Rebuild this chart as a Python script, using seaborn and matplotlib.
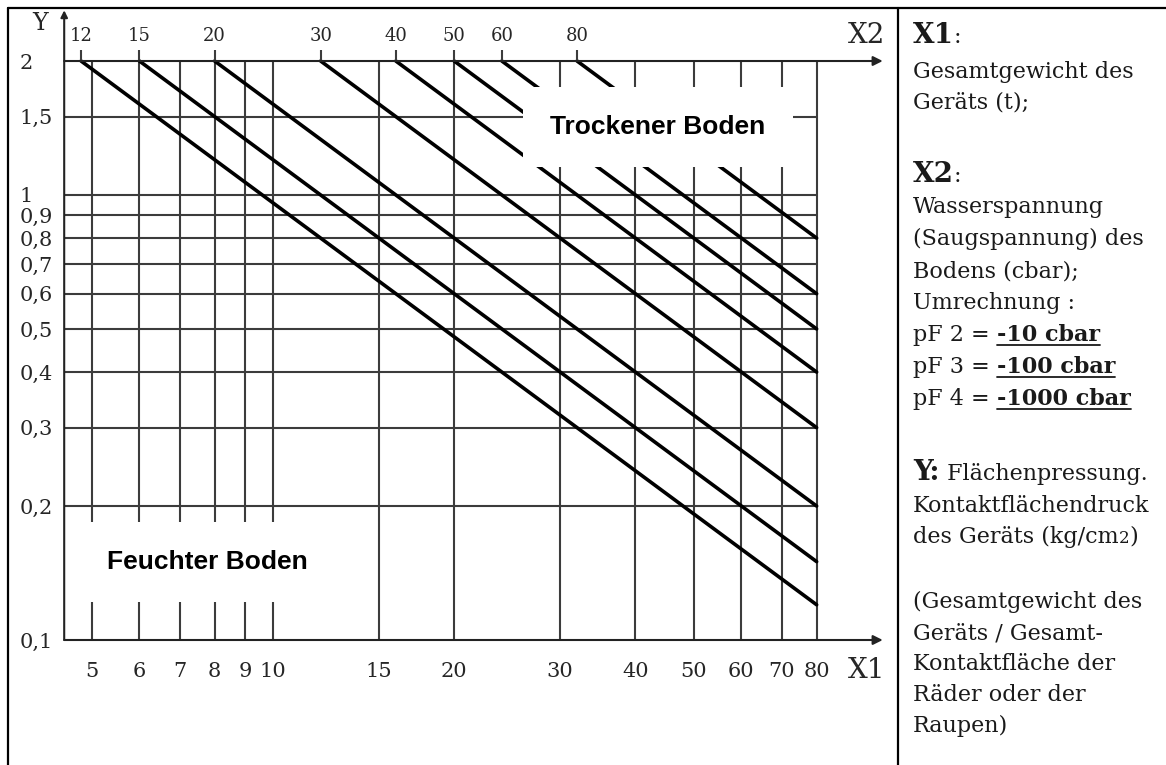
import numpy as np
import pandas as pd
import seaborn as sns
import matplotlib.pyplot as plt
from matplotlib.lines import Line2D
from matplotlib.ticker import FixedLocator, FixedFormatter, NullLocator

# Kurven X2: Start auf Y=2 (Lage in X1-Einheiten) und Endwert bei X1=80
x2_werte = [12, 15, 20, 30, 40, 50, 60, 80]
x1_start = [4.8, 6, 8, 12, 16, 20, 24, 32]
y_start = [2, 2, 2, 2, 2, 2, 2, 2]
x1_ende = [80, 80, 80, 80, 80, 80, 80, 80]
y_ende = [0.12, 0.15, 0.2, 0.3, 0.4, 0.5, 0.6, 0.8]

# Gitter / Achsenbeschriftung
x1_gitter = [5, 6, 7, 8, 9, 10, 15, 20, 30, 40, 50, 60, 70, 80]
x1_labels = ['5', '6', '7', '8', '9', '10', '15', '20', '30', '40', '50', '60', '70', '80']
y_gitter = [0.1, 0.2, 0.3, 0.4, 0.5, 0.6, 0.7, 0.8, 0.9, 1, 1.5, 2]
y_labels = ['0,1', '0,2', '0,3', '0,4', '0,5', '0,6', '0,7', '0,8', '0,9', '1', '1,5', '2']

df = pd.DataFrame({
    'X2': x2_werte + x2_werte,
    'X1': x1_start + x1_ende,
    'Y': y_start + y_ende,
})

sns.set_style('white')
plt.rcParams['font.family'] = ['DejaVu Serif']

W, H = 1166, 765
fig = plt.figure(figsize=(W / 100, H / 100), dpi=100)

# Achsenbereich so legen, dass X1 4.5..103 und Y 0.1..2.6 abgedeckt sind
x_links, x_rechts = 64.2, 882.7
y_oben, y_unten = 10.3, 640
ax = fig.add_axes([x_links / W, 1 - y_unten / H, (x_rechts - x_links) / W, (y_unten - y_oben) / H])
ax.set_xscale('log')
ax.set_yscale('log')
xmin, xmax = 4.5, 103
ymin, ymax = 0.1, 2.6
ax.set_xlim(xmin, xmax)
ax.set_ylim(ymin, ymax)

gitter_farbe = '#3c3c3c'
text_farbe = '#262626'
ax.vlines(x1_gitter, ymin, 2, color=gitter_farbe, lw=1.5, zorder=1)
ax.hlines(y_gitter[1:-1], xmin, 80, color=gitter_farbe, lw=1.5, zorder=1)

sns.lineplot(data=df, x='X1', y='Y', units='X2', estimator=None, color='black',
             linewidth=2.6, legend=False, ax=ax, zorder=2)

# Achsen mit Pfeilen
pfeil = dict(arrowstyle='-|>', lw=1.5, color='#222222', mutation_scale=14, shrinkA=0, shrinkB=0)
ax.annotate('', xy=(xmax, ymin), xytext=(xmin, ymin), arrowprops=pfeil, annotation_clip=False)
ax.annotate('', xy=(xmax, 2), xytext=(xmin, 2), arrowprops=pfeil, annotation_clip=False)
ax.annotate('', xy=(xmin, ymax), xytext=(xmin, ymin),
            arrowprops=dict(pfeil, mutation_scale=10), annotation_clip=False)

# X2-Markierungen oben
ax.vlines(x1_start, 2, 2.12, color=gitter_farbe, lw=1.5, clip_on=False)
for xs, lab in zip(x1_start, x2_werte):
    ax.annotate(str(lab), xy=(xs, 2), xytext=(0, 25), textcoords='offset pixels',
                ha='center', va='center', fontsize=13, color=text_farbe, annotation_clip=False)

for s in ax.spines.values():
    s.set_visible(False)
ax.xaxis.set_major_locator(FixedLocator(x1_gitter))
ax.xaxis.set_major_formatter(FixedFormatter(x1_labels))
ax.xaxis.set_minor_locator(NullLocator())
ax.yaxis.set_major_locator(FixedLocator(y_gitter))
ax.yaxis.set_major_formatter(FixedFormatter(y_labels))
ax.yaxis.set_minor_locator(NullLocator())
ax.tick_params(axis='x', length=0, pad=16, labelsize=15, labelcolor=text_farbe)
ax.tick_params(axis='y', length=0, pad=32, labelsize=15, labelcolor=text_farbe)
for lab in ax.get_yticklabels():
    lab.set_horizontalalignment('left')
ax.set_xlabel('')
ax.set_ylabel('')

fig.text(848 / W, 1 - 678 / H, 'X1', fontsize=20, color=text_farbe, ha='left', va='baseline')
fig.text(848 / W, 1 - 43 / H, 'X2', fontsize=20, color=text_farbe, ha='left', va='baseline')
fig.text(40 / W, 1 - 30 / H, 'Y', fontsize=17, color=text_farbe, ha='center', va='baseline')

# Bereichsbeschriftungen mit weissem Hintergrund
box = dict(boxstyle='square,pad=1.05', facecolor='white', edgecolor='none')
ax.text(7.77, 0.1497, 'Feuchter Boden', family='Liberation Sans', fontweight='bold',
        fontsize=19, color='black', ha='center', va='center', bbox=box, zorder=3)
ax.text(43.6, 1.42, 'Trockener Boden', family='Liberation Sans', fontweight='bold',
        fontsize=19, color='black', ha='center', va='center', bbox=box, zorder=3)

# Rahmen der Tabelle
rahmen = dict(color='black', lw=1.6)
fig.add_artist(Line2D([8 / W, 1], [1 - 8 / H, 1 - 8 / H], **rahmen))
fig.add_artist(Line2D([8 / W, 8 / W], [0, 1 - 8 / H], **rahmen))
fig.add_artist(Line2D([898 / W, 898 / W], [0, 1 - 8 / H], **rahmen))

# Legende rechts
renderer = fig.canvas.get_renderer()


def zeile(y_px, teile):
    x = 913
    for txt, fett, groesse, unter in teile:
        t = fig.text(x / W, 1 - y_px / H, txt, fontsize=groesse,
                     fontweight='bold' if fett else 'normal', color='#1a1a1a',
                     ha='left', va='baseline')
        bb = t.get_window_extent(renderer)
        if unter:
            fig.add_artist(Line2D([bb.x0 / W, bb.x1 / W], [1 - (y_px + 4) / H] * 2,
                                  color='#1a1a1a', lw=1.3))
        x = bb.x1


zeile(43, [('X1', True, 20, False), (':', False, 16, False)])
zeile(78, [('Gesamtgewicht des', False, 16, False)])
zeile(108, [('Geräts (t);', False, 16, False)])
zeile(182, [('X2', True, 20, False), (':', False, 16, False)])
zeile(213, [('Wasserspannung', False, 16, False)])
zeile(245, [('(Saugspannung) des', False, 16, False)])
zeile(277, [('Bodens (cbar);', False, 16, False)])
zeile(309, [('Umrechnung :', False, 16, False)])
zeile(341, [('pF 2 = ', False, 16, False), ('-10 cbar', True, 16, True)])
zeile(373, [('pF 3 = ', False, 16, False), ('-100 cbar', True, 16, True)])
zeile(405, [('pF 4 = ', False, 16, False), ('-1000 cbar', True, 16, True)])
zeile(480, [('Y:', True, 20, False), (' Flächenpressung.', False, 16, False)])
zeile(512, [('Kontaktflächendruck', False, 16, False)])
zeile(543, [('des Geräts (kg/cm', False, 16, False), ('2', False, 12, False), (')', False, 16, False)])
zeile(608, [('(Gesamtgewicht des', False, 16, False)])
zeile(639, [('Geräts / Gesamt-', False, 16, False)])
zeile(670, [('Kontaktfläche der', False, 16, False)])
zeile(701, [('Räder oder der', False, 16, False)])
zeile(732, [('Raupen)', False, 16, False)])

fig.savefig('out.png', dpi=100)
